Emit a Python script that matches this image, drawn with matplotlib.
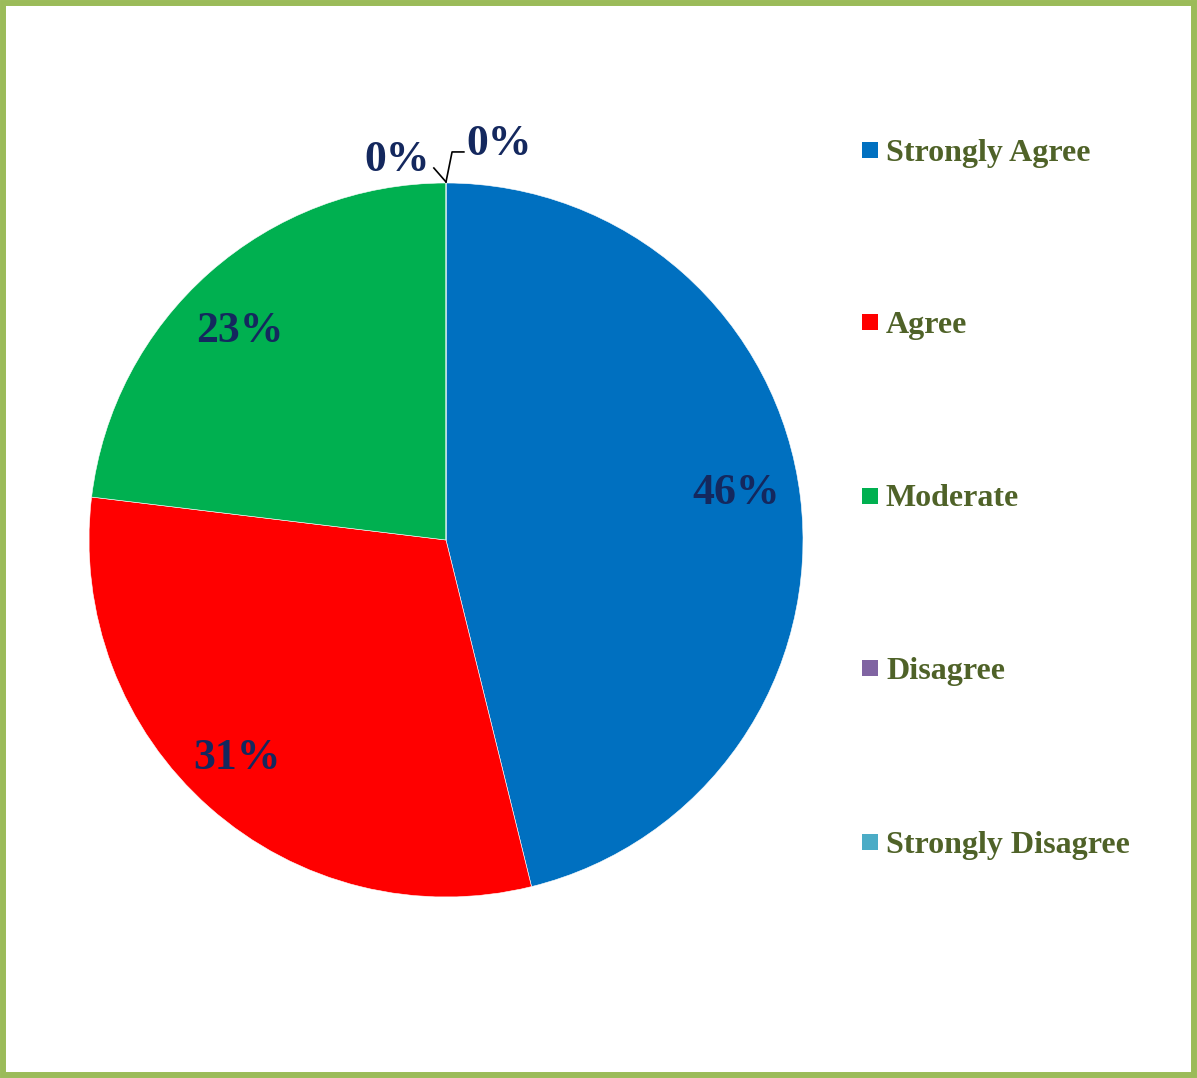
import matplotlib
matplotlib.use("Agg")
import matplotlib.pyplot as plt
from matplotlib.patches import Rectangle

# ------------------------------------------------------------
# DATEN
# ------------------------------------------------------------
categories = ["Strongly Agree", "Agree", "Moderate", "Disagree", "Strongly Disagree"]
values = [46.15, 30.77, 23.08, 0.0, 0.0]
pct_labels = ["46%", "31%", "23%", "0%", "0%"]
colors = ["#0070C0", "#FF0000", "#00B050", "#8064A2", "#4BACC6"]

LABEL_COL = "#14285E"
LEGEND_COL = "#4F6228"
BORDER_COL = "#9BBB59"
FONT = "Liberation Serif"

W, H = 1197, 1078
fig = plt.figure(figsize=(W / 100, H / 100), dpi=100)

# pie: center (446, 540) px, radius 357 px
cx, cy, R = 446, 540, 357
span = 1.2
ax = fig.add_axes([(cx - R * span) / W, (H - cy - R * span) / H,
                   2 * R * span / W, 2 * R * span / H])
ax.pie(values, colors=colors, startangle=90, counterclock=False,
       radius=1.0, wedgeprops=dict(edgecolor="white", linewidth=0.4))
ax.set_xlim(-span, span)
ax.set_ylim(-span, span)
ax.set_aspect("equal")
ax.axis("off")

# Beschriftungen (Positionen in Radius-Einheiten)
label_pos = [(0.812, 0.132), (-0.585, -0.610), (-0.577, 0.586),
             (-0.137, 1.065), (0.148, 1.110)]
for txt, (x, y) in zip(pct_labels, label_pos):
    ax.text(x, y, txt, ha="center", va="center", fontsize=31.5,
            fontweight="bold", family=FONT, color=LABEL_COL)

# Fuehrungslinien fuer die 0%-Labels
ax.plot([0.0, -0.034], [1.003, 1.042], color="black", lw=1.2)
ax.plot([0.0, 0.017, 0.050], [1.003, 1.087, 1.087], color="black", lw=1.2)

# Legende (manuell, rechts)
leg_y = [150, 322, 496, 668, 842]
for name, col, y in zip(categories, colors, leg_y):
    fig.patches.append(Rectangle((862 / W, (H - y - 8) / H), 16 / W, 16 / H,
                                 transform=fig.transFigure, facecolor=col,
                                 edgecolor="none"))
    fig.text(886 / W, (H - y - 3) / H, name, ha="left", va="center",
             fontsize=23, fontweight="bold", family=FONT, color=LEGEND_COL)

# gruener Rahmen
fig.patches.append(Rectangle((3 / W, 3 / H), 1 - 6 / W, 1 - 6 / H,
                             transform=fig.transFigure, facecolor="none",
                             edgecolor=BORDER_COL, linewidth=4.3))

fig.savefig("out.png", dpi=100, facecolor="white")
